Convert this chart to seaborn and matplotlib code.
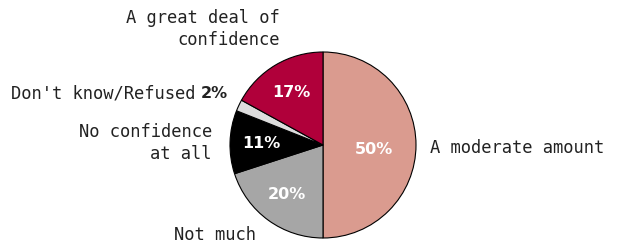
import matplotlib.pyplot as plt
import seaborn as sns

categories = ["A moderate amount", "Not much", "No confidence\nat all",
              "Don't know/Refused", "A great deal of\nconfidence"]
values = [50, 20, 11, 2, 17]
colors = ["#DA9B8F", "#A6A6A6", "#000000", "#DDDDDD", "#B0003A"]

sns.set_theme(style="white")
plt.rcParams['font.family'] = ['DejaVu Sans']

fig = plt.figure(figsize=(6.19, 2.43), dpi=100)
ax = fig.add_axes([230 / 619, 5 / 243, 186 / 619, 186 / 243])

wedges, texts, autotexts = ax.pie(
    values, colors=colors, startangle=90, counterclock=False,
    autopct=lambda p: "%d%%" % round(p), pctdistance=0.66,
    wedgeprops=dict(edgecolor="black", linewidth=0.8),
    textprops=dict(color="white", fontsize=11.5, fontweight="bold"))
ax.set_aspect("equal")
ax.set_xlim(-1, 1)
ax.set_ylim(-1, 1)

# small slice label goes outside
autotexts[3].set_visible(False)
autotexts[0].set_position((0.55, -0.05))


def px(x, y):
    return (x - 323) / 93, (145 - y) / 93


lab = dict(family="DejaVu Sans Mono", fontsize=12.3, color="#222222")
ax.text(*px(430, 148), categories[0], ha="left", va="center", **lab)
ax.text(*px(215, 235), categories[1], ha="center", va="center", **lab)
ax.text(*px(212, 143), categories[2], ha="right", va="center",
        multialignment="right", linespacing=1.3, **lab)
ax.text(*px(196, 93), "Don't know/Refused", ha="right", va="center", **lab)
ax.text(*px(201, 93), "2%", ha="left", va="center", fontsize=11.5,
        fontweight="bold", color="#222222")
ax.text(*px(280, 29), categories[4], ha="right", va="center",
        multialignment="right", linespacing=1.3, **lab)

fig.savefig("out.png", dpi=100)
